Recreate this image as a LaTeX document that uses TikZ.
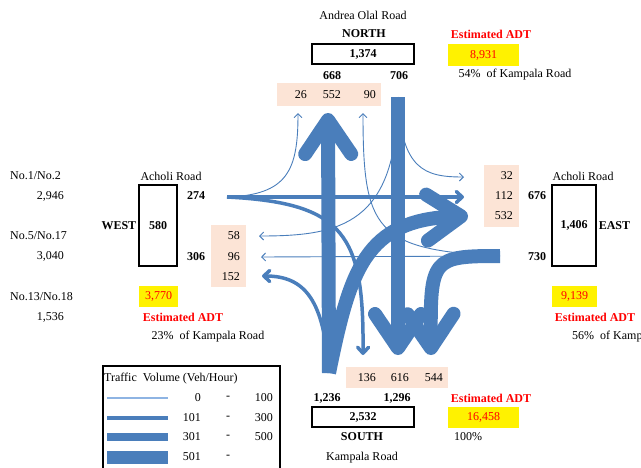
\documentclass[tikz,border=0pt]{standalone}
\usepackage{fontspec}
\setmainfont{Liberation Serif}
\usepackage{tikz}
\usetikzlibrary{arrows.meta, positioning}
\definecolor{flowblue}{HTML}{4A7EBB}
\definecolor{legblue}{HTML}{8EB4E3}
\definecolor{cellpeach}{HTML}{FCE4D6}
\definecolor{adtred}{HTML}{FF0000}

\begin{document}
\begin{tikzpicture}[
    x=1pt, y=-1pt,
    every node/.style={font=\fontsize{12}{14}\selectfont, inner sep=0pt},
    bnum/.style={font=\fontsize{12}{14}\selectfont\bfseries},
    adt/.style={text=adtred, font=\fontsize{12}{14}\selectfont\bfseries},
    roadbox/.style={draw, line width=1.2pt, font=\fontsize{12}{14}\selectfont\bfseries},
    peach/.style={fill=cellpeach},
    adtcell/.style={fill=yellow, text=adtred},
    lowflow/.style={draw=flowblue, line width=0.9pt, -{Straight Barb[length=4pt, width=8pt]}},
    midflow/.style={draw=flowblue, line width=3.5pt, -{Straight Barb[round, length=6pt, width=11pt]}},
    highflow/.style={draw=flowblue, line width=14pt, -{Straight Barb[round, length=34pt, width=46pt]}}
]
\useasboundingbox (0,0) rectangle (641,467);
\clip (0,0) rectangle (641,467);

% north leg
\node (nRoad) at (363,15) {Andrea Olal Road};
\node[bnum] (nName) at (364,34) {NORTH};
\node[roadbox, minimum width=102pt, minimum height=20pt] (nBox) at (363,54) {1,374};
\node[bnum] (nOut) at (332,76) {668};
\node[bnum] (nIn706) at (399,76) {706};
\node[peach, minimum width=104pt, minimum height=23pt] (nCell) at (329,94.5) {};
\node[anchor=east] (n26) at (307,95) {26};
\node[anchor=east] (n552) at (341,95) {552};
\node[anchor=east] (n90) at (376,95) {90};
\node[adt] (nAdtT) at (491,34) {Estimated ADT};
\node[adtcell, minimum width=71pt, minimum height=22pt] (nAdt) at (483.5,55) {8,931};
\node (nPct) at (515,75) {54\%\ \ of Kampala Road};

% west leg
\node[anchor=west] (cnt1) at (10,176) {No.1/No.2};
\node[anchor=east] (cnt1v) at (64,196) {2,946};
\node[anchor=west] (cnt2) at (10,236) {No.5/No.17};
\node[anchor=east] (cnt2v) at (64,256) {3,040};
\node[anchor=west] (cnt3) at (10,297) {No.13/No.18};
\node[anchor=east] (cnt3v) at (64,317) {1,536};
\node (wRoad) at (171,176) {Acholi Road};
\node[roadbox, minimum width=38pt, minimum height=81pt] (wBox) at (158,225.5) {580};
\node[bnum, left=2pt of wBox] (wName) {WEST};
\node[bnum] (wIn274) at (196,196) {274};
\node[bnum] (wOut) at (196,257) {306};
\node[peach, minimum width=35pt, minimum height=62pt] (wCell) at (228.5,256) {};
\node[anchor=east] (w58) at (240,236) {58};
\node[anchor=east] (w96) at (240,257) {96};
\node[anchor=east] (w152) at (240,277) {152};
\node[adtcell, minimum width=39pt, minimum height=21pt] (wAdt) at (158.5,296.5) {3,770};
\node[adt] (wAdtT) at (183,317) {Estimated ADT};
\node (wPct) at (208,337) {23\%\ \ of Kampala Road};

% east leg
\node[peach, minimum width=35pt, minimum height=62pt] (eCell) at (501.5,196) {};
\node[anchor=east] (e32) at (513,176) {32};
\node[anchor=east] (e112) at (513,196) {112};
\node[anchor=east] (e532) at (513,216) {532};
\node (eRoad) at (583,176) {Acholi Road};
\node[roadbox, minimum width=44pt, minimum height=81pt] (eBox) at (574,225.5) {1,406};
\node[bnum, right=2pt of eBox] (eName) {EAST};
\node[bnum] (eOut) at (537,196) {676};
\node[bnum] (eIn730) at (537,257) {730};
\node[adtcell, minimum width=45pt, minimum height=21pt] (eAdt) at (574.5,296.5) {9,139};
\node[adt] (eAdtT) at (595,317) {Estimated ADT};
\node[anchor=west] (ePct) at (572,337) {56\%\ \ of Kampala Road};

% south leg
\node[peach, minimum width=102pt, minimum height=21pt] (sCell) at (397,377.5) {};
\node[anchor=east] (s136) at (376,378) {136};
\node[anchor=east] (s616) at (409,378) {616};
\node[anchor=east] (s544) at (443,378) {544};
\node[bnum] (sIn1236) at (327,398) {1,236};
\node[bnum] (sOut) at (397,398) {1,296};
\node[roadbox, minimum width=102pt, minimum height=20pt] (sBox) at (363,417) {2,532};
\node[bnum] (sName) at (362,437) {SOUTH};
\node (sRoad) at (362,458) {Kampala Road};
\node[adt] (sAdtT) at (491,398) {Estimated ADT};
\node[adtcell, minimum width=71pt, minimum height=21pt] (sAdt) at (483.5,417.5) {16,458};
\node (sPct) at (468,437) {100\%};

% legend
\draw[line width=1.2pt] (103,366) rectangle (280,480);
\node[anchor=west] (legTitle) at (104,379) {Traffic\ \ Volume (Veh/Hour)};
\draw[legblue, line width=1.5pt] (107,398) -- (168,398);
\draw[flowblue, line width=3.5pt] (107,418) -- (168,418);
\draw[flowblue, line width=8pt] (107,437) -- (168,437);
\draw[flowblue, line width=13pt] (107,457) -- (168,457);
\node[anchor=east] (lg1a) at (201,398) {0};
\node (lg1b) at (228,398) {-};
\node[anchor=east] (lg1c) at (273,398) {100};
\node[anchor=east] (lg2a) at (201,418) {101};
\node (lg2b) at (228,418) {-};
\node[anchor=east] (lg2c) at (273,418) {300};
\node[anchor=east] (lg3a) at (201,437) {301};
\node (lg3b) at (228,437) {-};
\node[anchor=east] (lg3c) at (273,437) {500};
\node[anchor=east] (lg4a) at (201,457) {501};
\node (lg4b) at (228,457) {-};

% approach and exit points
\coordinate (wIn) at (227,197);
\coordinate (eIn) at (500,256);
\coordinate (nIn) at (398,97);
\coordinate (sIn) at (329,373);
\coordinate (nT26) at (298,113);
\coordinate (nT552) at (328,113);
\coordinate (nT90) at (363,113);
\coordinate (eT32) at (464,177);
\coordinate (eT112) at (464,197);
\coordinate (eT532) at (468,216);
\coordinate (wT58) at (259,236);
\coordinate (wT96) at (261,257);
\coordinate (wT152) at (262,276);
\coordinate (sT136) at (363,355);
\coordinate (sT616) at (398,355);
\coordinate (sT544) at (431,355);

% movements
\draw[lowflow] (wIn) .. controls (288,195) and (298,170) .. (nT26);
\draw[midflow] (wIn) -- (eT112);
\draw[midflow] (wIn) .. controls (345,203) and (364,235) .. (sT136);
\draw[lowflow] (nIn) .. controls (401,170) and (425,177) .. (eT32);
\draw[lowflow] (nIn) .. controls (397,225) and (340,236) .. (wT58);
\draw[highflow] (nIn) -- (sT616);
\draw[lowflow] (eIn) .. controls (375,250) and (363,230) .. (nT90);
\draw[lowflow] (eIn) -- (wT96);
\draw[highflow] (eIn) .. controls (432,256) and (430,258) .. (sT544);
\draw[highflow] (sIn) -- (nT552);
\draw[highflow] (sIn) .. controls (350,270) and (365,220) .. (eT532);
\draw[midflow] (sIn) .. controls (324,300) and (305,276) .. (wT152);
\end{tikzpicture}
\end{document}
